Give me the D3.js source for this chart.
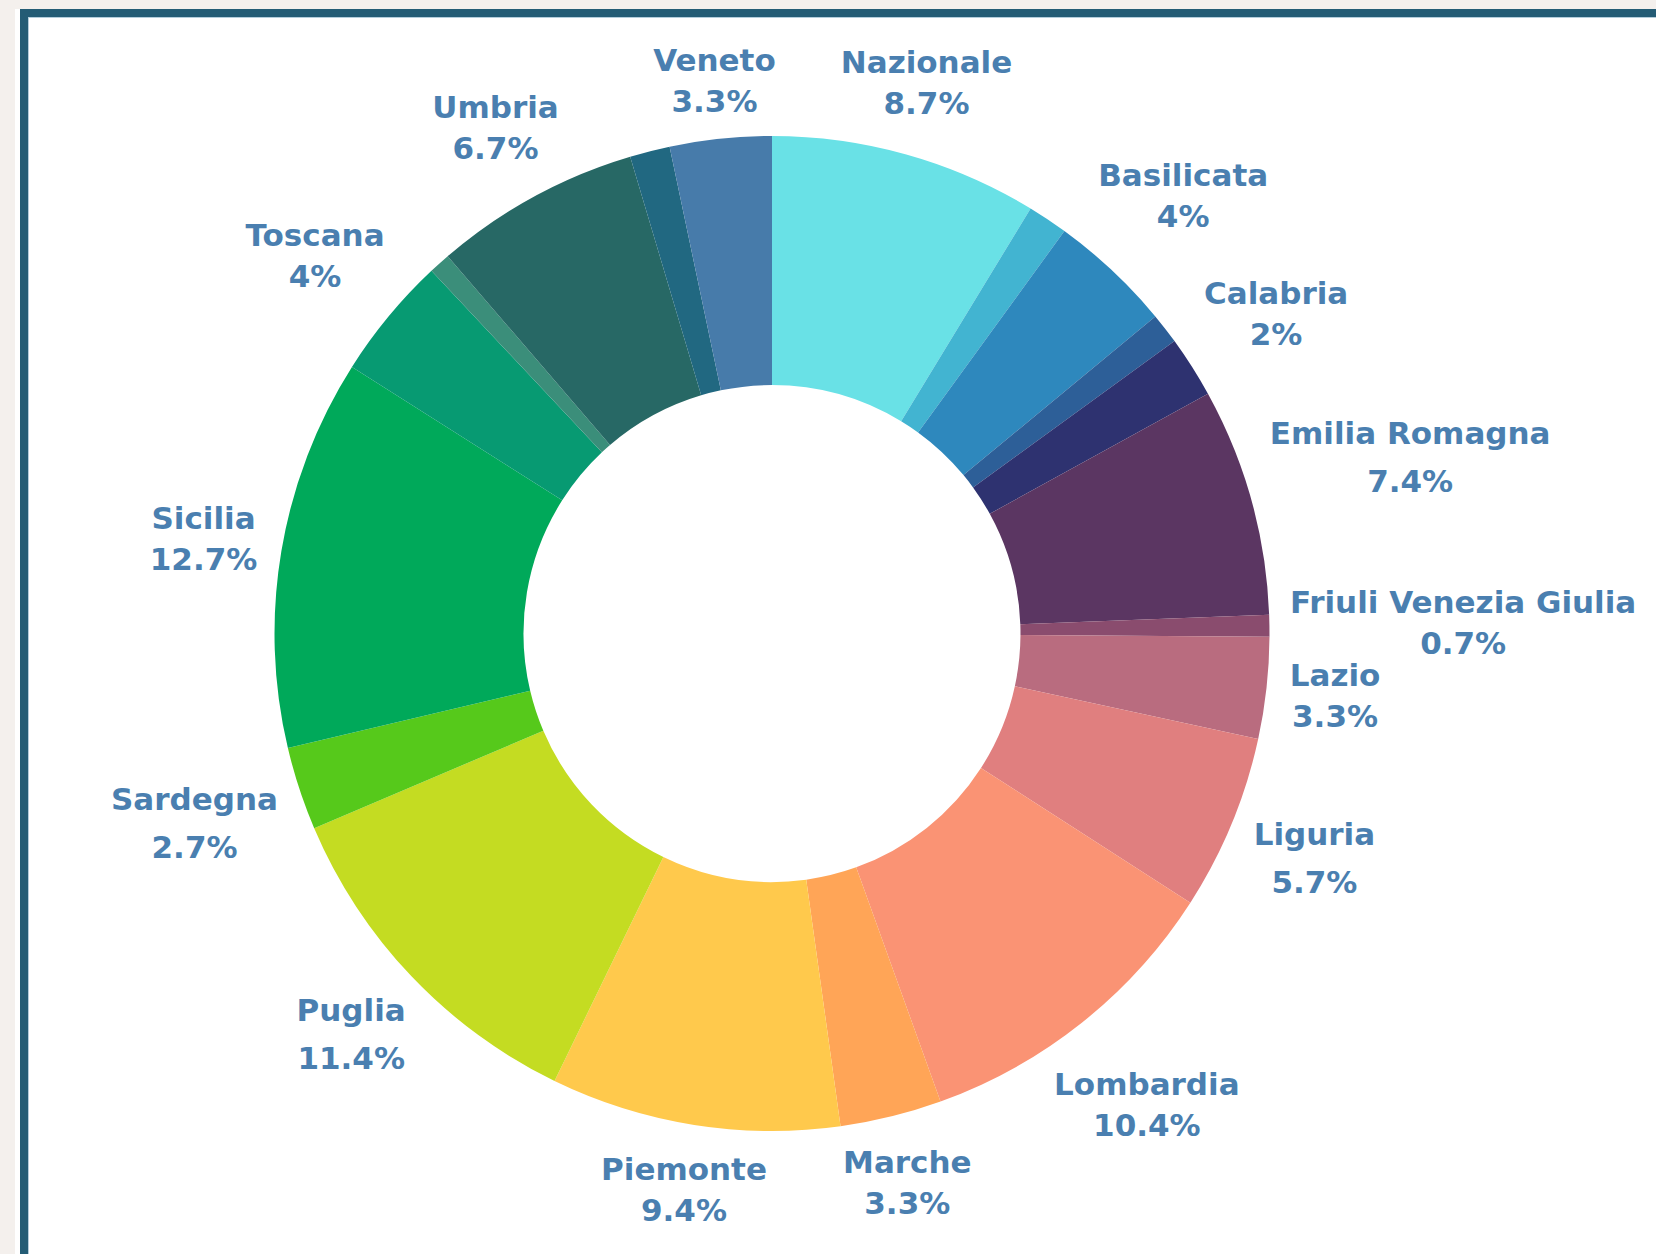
<!DOCTYPE html>
<html>
<head>
<meta charset="utf-8">
<script src="https://cdn.jsdelivr.net/npm/d3@7"></script>
<style>
html, body { margin: 0; padding: 0; background: #f4f0ed; }
svg { display: block; }
</style>
</head>
<body>
<svg id="chart" width="1656" height="1254"></svg>
<script>
// ---- data ----
const regions = ["Nazionale", "Abruzzo", "Basilicata", "Bolzano", "Calabria", "Emilia Romagna",
  "Friuli Venezia Giulia", "Lazio", "Liguria", "Lombardia", "Marche", "Piemonte", "Puglia",
  "Sardegna", "Sicilia", "Toscana", "Trento", "Umbria", "Valle d'Aosta", "Veneto"];
const shares = [8.7, 1.3, 4, 1.0, 2, 7.4, 0.7, 3.3, 5.7, 10.4, 3.3, 9.4, 11.4, 2.7, 12.7, 4, 0.7, 6.7, 1.3, 3.3];
const sliceColors = ["#69e1e6", "#42b4d1", "#2e88bd", "#2d5f98", "#2e3270", "#5b3662",
  "#8a4c6e", "#b96c7f", "#e07f7f", "#fa9374", "#ffa557", "#ffc94c", "#c4dc22",
  "#56c91b", "#00a95a", "#079a72", "#3b8e7a", "#276865", "#216881", "#477baa"];
const labelShown = [true, false, true, false, true, true, true, true, true, true, true, true, true,
  true, true, true, false, true, false, true];

// ---- layout ----
const W = 1656, H = 1254;
const cx = 772, cy = 633.5, outerR = 497.5, innerR = 248.5;
const fontSize = 31, labelOffset = 16, halfBoxH = 36, lineGap = 41, descGap = 48;
const textColor = "#4a7fb0";

const svg = d3.select("#chart");

// card frame
svg.append("rect").attr("x", 15).attr("y", 9).attr("width", W - 15).attr("height", H - 9).attr("fill", "#ffffff");
svg.append("rect").attr("x", 20).attr("y", 9).attr("width", W - 20).attr("height", 8).attr("fill", "#245c75");
svg.append("rect").attr("x", 20).attr("y", 9).attr("width", 8).attr("height", H - 9).attr("fill", "#245c75");
svg.append("rect").attr("x", 28).attr("y", 17).attr("width", W - 28).attr("height", 1).attr("fill", "#b3cddb");
svg.append("rect").attr("x", 28).attr("y", 17).attr("width", 1).attr("height", H - 17).attr("fill", "#b3cddb");

const items = regions.map((name, i) => ({ name, value: shares[i], color: sliceColors[i], shown: labelShown[i] }));

const pie = d3.pie().sort(null).value(d => d.value).startAngle(0).endAngle(2 * Math.PI);
const arc = d3.arc().innerRadius(innerR).outerRadius(outerR);
const arcs = pie(items);

const g = svg.append("g").attr("transform", `translate(${cx},${cy})`);
g.selectAll("path.slice").data(arcs).join("path")
  .attr("class", "slice")
  .attr("d", arc)
  .attr("fill", d => d.data.color);

const fmt = v => `${v}%`;

const labels = g.selectAll("g.label").data(arcs.filter(d => d.data.shown)).join("g").attr("class", "label");
labels.each(function (d) {
  const el = d3.select(this);
  const a = (d.startAngle + d.endAngle) / 2;
  const vx = Math.sin(a), vy = -Math.cos(a);
  const gap = /[gjpqy]/.test(d.data.name) ? descGap : lineGap;
  const t1 = el.append("text").text(d.data.name);
  const t2 = el.append("text").text(fmt(d.data.value));
  el.selectAll("text")
    .attr("text-anchor", "middle")
    .attr("font-family", "'DejaVu Sans', sans-serif")
    .attr("font-weight", "bold")
    .attr("font-size", fontSize)
    .attr("fill", textColor);
  const tw = Math.max(t1.node().getComputedTextLength(), t2.node().getComputedTextLength());
  const halfW = tw / 2 + 4;
  const dist = outerR + labelOffset + Math.abs(vx) * halfW + Math.abs(vy) * halfBoxH;
  const x = vx * dist, y = vy * dist;
  const capHalf = fontSize * 0.365;
  t1.attr("x", x).attr("y", y - gap / 2 + capHalf);
  t2.attr("x", x).attr("y", y + gap / 2 + capHalf);
});
</script>
</body>
</html>
